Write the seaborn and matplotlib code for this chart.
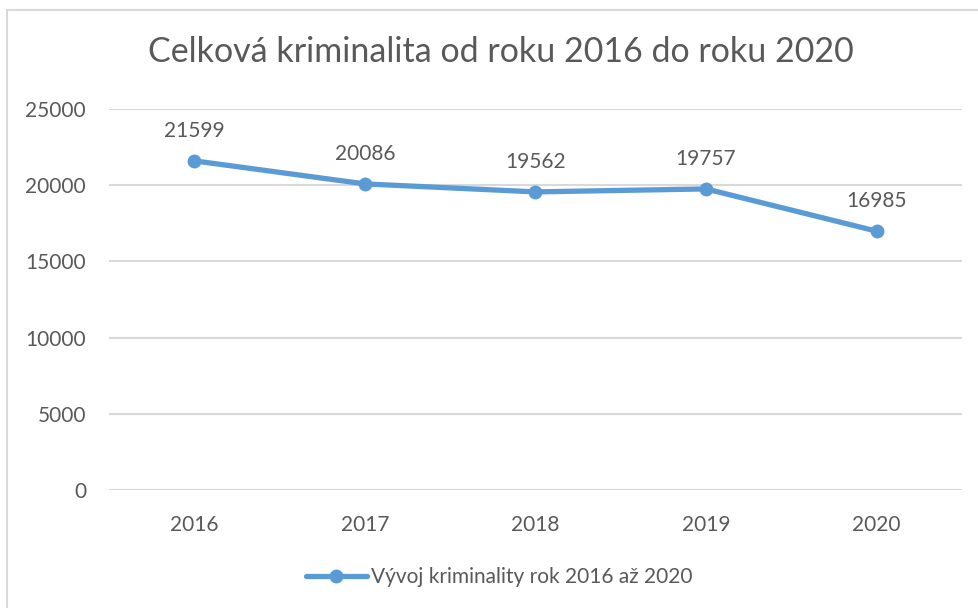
import matplotlib
matplotlib.use("Agg")
import matplotlib.pyplot as plt
import seaborn as sns
import pandas as pd
from matplotlib.lines import Line2D

# data
years = ["2016", "2017", "2018", "2019", "2020"]
crimes = [21599, 20086, 19562, 19757, 16985]
series_name = "Vývoj kriminality rok 2016 až 2020"
title = "Celková kriminalita od roku 2016 do roku 2020"

df = pd.DataFrame({"rok": years, "pocet": crimes})

sns.set_style("white")
plt.rcParams["font.family"] = ["Lato", "DejaVu Sans"]

text_col = "#595959"
line_col = "#5B9BD5"
grid_col = "#D9D9D9"

fig = plt.figure(figsize=(9.79, 6.08), dpi=100)
ax = fig.add_axes([0.1113, 0.194, 0.8713, 0.6267])

sns.lineplot(data=df, x="rok", y="pocet", ax=ax, color=line_col, linewidth=3.8,
             marker="o", markersize=10, markeredgewidth=0, label=series_name,
             sort=False)

for i, v in enumerate(crimes):
    ax.annotate(str(v), (i, v), xytext=(0, 21.6), textcoords="offset points",
                ha="center", va="center", fontsize=15, color=text_col)

ax.set_xlim(-0.5, 4.5)
ax.set_ylim(0, 25000)
ax.set_yticks(range(0, 25001, 5000))
ax.grid(axis="y", color=grid_col, linewidth=1.5)
ax.grid(axis="x", visible=False)
for s in ax.spines.values():
    s.set_visible(False)
ax.tick_params(axis="both", length=0, labelsize=15, colors=text_col)
ax.tick_params(axis="x", pad=18)
ax.tick_params(axis="y", pad=16.5)
ax.set_xlabel("")
ax.set_ylabel("")

fig.suptitle(title, x=0.512, y=1 - 52 / 608, va="center", fontsize=24.5, color=text_col)

ax.get_legend().remove()
fig.legend(loc="center", bbox_to_anchor=(0.51, 1 - 577 / 608), frameon=False,
           fontsize=15, labelcolor=text_col, handlelength=2.9, handletextpad=0.2)

# chart border (top and left visible in the reference)
fig.add_artist(Line2D([7 / 979, 1.0], [1 - 9.5 / 608, 1 - 9.5 / 608],
                      transform=fig.transFigure, color=grid_col, linewidth=1.5))
fig.add_artist(Line2D([7 / 979, 7 / 979], [0, 1 - 9.5 / 608],
                      transform=fig.transFigure, color=grid_col, linewidth=1.5))

fig.savefig("out.png", dpi=100)
